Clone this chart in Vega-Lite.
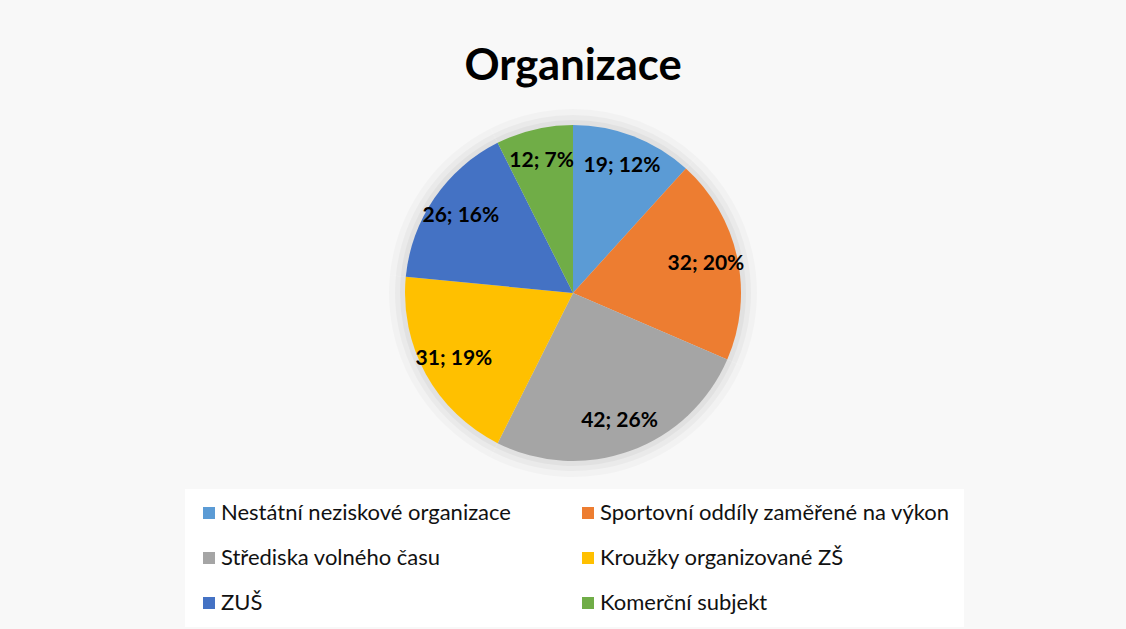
{
  "$schema": "https://vega.github.io/schema/vega-lite/v6.json",
  "autosize": {"type": "none"},
  "width": 1106,
  "height": 386,
  "padding": {"left": 20, "top": 100, "right": 0, "bottom": 143},
  "background": "#f8f8f8",
  "title": {
    "text": "Organizace",
    "font": "Lato",
    "fontSize": 43.5,
    "fontWeight": "bold",
    "color": "#000000",
    "anchor": "middle",
    "baseline": "alphabetic",
    "offset": -23
  },
  "data": {
    "values": [
      {"kategorie": "Nestátní neziskové organizace", "pocet": 19, "popisek": "19; 12%", "poradi": 1},
      {"kategorie": "Sportovní oddíly zaměřené na výkon", "pocet": 32, "popisek": "32; 20%", "poradi": 2},
      {"kategorie": "Střediska volného času", "pocet": 42, "popisek": "42; 26%", "poradi": 3},
      {"kategorie": "Kroužky organizované ZŠ", "pocet": 31, "popisek": "31; 19%", "poradi": 4},
      {"kategorie": "ZUŠ", "pocet": 26, "popisek": "26; 16%", "poradi": 5},
      {"kategorie": "Komerční subjekt", "pocet": 12, "popisek": "12; 7%", "poradi": 6}
    ]
  },
  "encoding": {
    "theta": {"field": "pocet", "type": "quantitative", "stack": true},
    "order": {"field": "poradi", "type": "quantitative"}
  },
  "layer": [
    {
      "mark": {"type": "arc", "outerRadius": 184, "color": "#000000", "opacity": 0.025}
    },
    {
      "mark": {"type": "arc", "outerRadius": 178, "color": "#000000", "opacity": 0.03}
    },
    {
      "mark": {"type": "arc", "outerRadius": 173, "color": "#000000", "opacity": 0.035}
    },
    {
      "mark": {"type": "arc", "outerRadius": 168},
      "encoding": {
        "color": {
          "field": "kategorie",
          "type": "nominal",
          "sort": null,
          "scale": {
            "domain": [
              "Nestátní neziskové organizace",
              "Střediska volného času",
              "ZUŠ",
              "Sportovní oddíly zaměřené na výkon",
              "Kroužky organizované ZŠ",
              "Komerční subjekt"
            ],
            "range": ["#5B9BD5", "#A5A5A5", "#4472C4", "#ED7D31", "#FFC000", "#70AD47"]
          },
          "legend": {
            "title": null,
            "orient": "none",
            "legendX": 165,
            "legendY": 389,
            "columns": 2,
            "columnPadding": 66,
            "rowPadding": 23,
            "symbolType": "square",
            "symbolSize": 144,
            "symbolStrokeWidth": 0,
            "labelOffset": 1,
            "labelFont": "Lato",
            "labelFontSize": 22,
            "labelColor": "#111111",
            "labelLimit": 500,
            "fillColor": "#ffffff",
            "padding": 13
          }
        }
      }
    },
    {
      "mark": {"type": "text", "radius": 136, "font": "Lato", "fontSize": 21, "fontWeight": "bold", "color": "#000000"},
      "encoding": {
        "text": {"field": "popisek", "type": "nominal"}
      }
    }
  ],
  "config": {
    "view": {"stroke": null}
  }
}
